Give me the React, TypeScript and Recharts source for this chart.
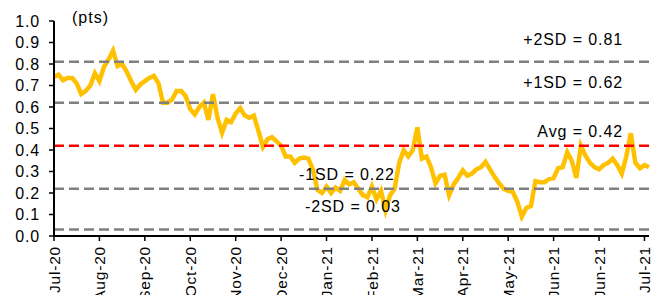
import { Line, LineChart, ReferenceLine, XAxis, YAxis } from "recharts";

// one tick every 10 points, labels as printed on the original
const tickLabels = [
  "Jul-20", "Aug-20", "Sep-20", "Oct-20", "Nov-20", "Dec-20", "Jan-21",
  "Feb-21", "Mar-21", "Apr-21", "May-21", "Jun-21", "Jun-21", "Jul-21"
];

// spread (pts)
const spread = [
  0.74, 0.75, 0.725, 0.735, 0.735, 0.71, 0.66, 0.675, 0.70, 0.757,
  0.72, 0.787, 0.82, 0.862, 0.79, 0.80, 0.765, 0.72, 0.68, 0.705,
  0.72, 0.735, 0.745, 0.71, 0.62, 0.62, 0.635, 0.675, 0.675, 0.65,
  0.59, 0.565, 0.60, 0.62, 0.54, 0.66, 0.55, 0.48, 0.54, 0.53,
  0.57, 0.595, 0.56, 0.55, 0.56, 0.49, 0.415, 0.45, 0.46, 0.44,
  0.42, 0.37, 0.37, 0.34, 0.36, 0.365, 0.36, 0.31, 0.214, 0.20,
  0.23, 0.20, 0.225, 0.21, 0.26, 0.24, 0.25, 0.22, 0.19, 0.18,
  0.23, 0.17, 0.21, 0.12, 0.19, 0.22, 0.34, 0.40, 0.37, 0.40,
  0.505, 0.36, 0.37, 0.32, 0.245, 0.28, 0.285, 0.19, 0.24, 0.27,
  0.305, 0.28, 0.29, 0.31, 0.32, 0.345, 0.31, 0.275, 0.245, 0.22,
  0.21, 0.205, 0.16, 0.09, 0.13, 0.14, 0.255, 0.25, 0.25, 0.265,
  0.27, 0.315, 0.32, 0.39, 0.35, 0.27, 0.42, 0.375, 0.34, 0.32,
  0.31, 0.33, 0.34, 0.36, 0.33, 0.29, 0.37, 0.478, 0.34, 0.315,
  0.33, 0.32
];

const yTicks = [0, 0.1, 0.2, 0.3, 0.4, 0.5, 0.6, 0.7, 0.8, 0.9, 1.0];

const plus2sd = 0.81;
const plus1sd = 0.62;
const average = 0.42;
const minus1sd = 0.22;
const minus2sd = 0.03;

const data = spread.map((v, i) => ({ i, v }));
const xTicks = tickLabels.map((_, k) => k * 10);

const FONT = "'Liberation Sans', Arial, sans-serif";

function MonthTick({ x, y, payload }: any) {
  const label = tickLabels[Math.round(payload.value / 10)] ?? "";
  return (
    <text
      x={x}
      y={y + 3}
      transform={`rotate(-90 ${x} ${y + 3})`}
      textAnchor="end"
      dy="0.36em"
      fontSize={15.5}
      letterSpacing={0.8}
      fontFamily={FONT}
      fill="#000"
    >
      {label}
    </text>
  );
}

const bandLabel =
  (text: string, side: "left" | "right", shift: number, lift: number) =>
  (props: any) => {
    const vb = props.viewBox;
    if (!vb) return null;
    const x = side === "right" ? vb.x + vb.width - shift : vb.x + shift;
    return (
      <text
        x={x}
        y={vb.y - lift}
        textAnchor={side === "right" ? "end" : "start"}
        fontSize={16}
        letterSpacing={0.9}
        fontFamily={FONT}
        fill="#000"
      >
        {text}
      </text>
    );
  };

export default function App() {
  return (
    <div
      style={{
        position: "relative",
        margin: -8,
        width: 663,
        height: 303,
        background: "#fff",
        fontFamily: FONT
      }}
    >
      <span
        style={{
          position: "absolute",
          left: 72,
          top: 9,
          fontSize: 16,
          letterSpacing: 1,
          color: "#000"
        }}
      >
        (pts)
      </span>
      <LineChart
        width={663}
        height={303}
        data={data}
        margin={{ top: 21, right: 14, left: 0, bottom: 0 }}
      >
        <XAxis
          dataKey="i"
          type="number"
          domain={[0, 131]}
          ticks={xTicks}
          tick={<MonthTick />}
          height={67}
          interval={0}
          axisLine={{ stroke: "#000", strokeWidth: 2 }}
          tickLine={{ stroke: "#000", strokeWidth: 1.5 }}
          tickSize={5}
        />
        <YAxis
          type="number"
          domain={[0, 1]}
          ticks={yTicks}
          width={54}
          interval={0}
          tickFormatter={(v: number) => v.toFixed(1)}
          tick={{ fontSize: 16, letterSpacing: 0.8, fontFamily: FONT, fill: "#000" }}
          axisLine={{ stroke: "#000", strokeWidth: 2 }}
          tickLine={{ stroke: "#000", strokeWidth: 1.5 }}
          tickSize={5}
          tickMargin={9}
        />
        <Line
          type="linear"
          dataKey="v"
          stroke="#FFC000"
          strokeWidth={4.5}
          dot={false}
          activeDot={false}
          isAnimationActive={false}
        />
        <ReferenceLine
          y={plus2sd}
          stroke="#808080"
          strokeWidth={2.5}
          strokeDasharray="10 5"
          label={bandLabel("+2SD = 0.81", "right", 26, 17)}
        />
        <ReferenceLine
          y={plus1sd}
          stroke="#808080"
          strokeWidth={2.5}
          strokeDasharray="10 5"
          label={bandLabel("+1SD = 0.62", "right", 26, 15)}
        />
        <ReferenceLine
          y={minus1sd}
          stroke="#808080"
          strokeWidth={2.5}
          strokeDasharray="10 5"
          label={bandLabel("-1SD = 0.22", "left", 245, 9)}
        />
        <ReferenceLine
          y={minus2sd}
          stroke="#808080"
          strokeWidth={2.5}
          strokeDasharray="10 5"
          label={bandLabel("-2SD = 0.03", "left", 251, 18)}
        />
        <ReferenceLine
          y={average}
          stroke="#FF0000"
          strokeWidth={2.5}
          strokeDasharray="10 5"
          label={bandLabel("Avg = 0.42", "right", 26, 9)}
        />
      </LineChart>
    </div>
  );
}
